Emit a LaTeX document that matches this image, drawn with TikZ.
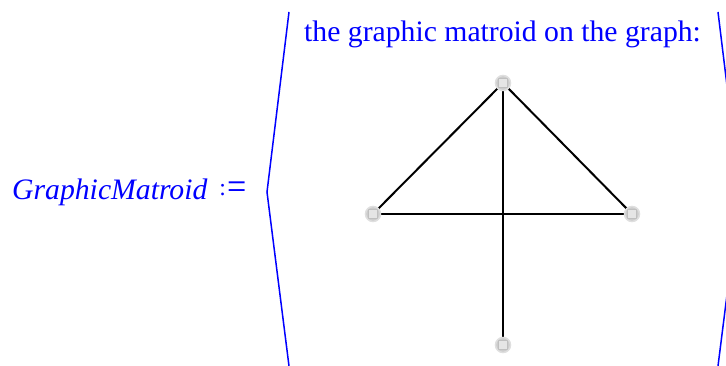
\documentclass[tikz,border=0pt]{standalone}
\usepackage{fontspec}
\setmainfont{Liberation Serif}
\begin{document}
\begin{tikzpicture}[x=1pt,y=-1pt,
  vert/.style={circle,fill=gray!40,draw=gray!25,line width=1.5pt,minimum size=15pt,inner sep=0pt,
    path picture={\fill[gray!20,draw=gray!50,line width=0.6pt] ([xshift=-4.5pt,yshift=-4.5pt]path picture bounding box.center) rectangle ([xshift=4.5pt,yshift=4.5pt]path picture bounding box.center);}},
  edge/.style={black,line width=2pt},
  brk/.style={blue,line width=1.5pt},
  lbl/.style={blue,font=\fontsize{29.7}{34}\selectfont,inner sep=0pt}]
\useasboundingbox (0,0) rectangle (726,366);
\clip (0,0) rectangle (726,366);
% texts
\node[lbl,anchor=base west] (name) at (12,200) {\itshape GraphicMatroid\upshape\hspace{12pt}\raisebox{4pt}{\scalebox{0.8}{:}}\kern1pt\scalebox{1.15}[1.3]{=}};
\node[lbl,anchor=base west] (title) at (304,42) {the graphic matroid on the graph:};
% brackets
\coordinate (lt) at (289,12);
\coordinate (la) at (267,192);
\coordinate (lb) at (289,366);
\coordinate (rt) at (718,12);
\coordinate (ra) at (740,192);
\coordinate (rb) at (718,366);
\draw[brk] (lt) -- (la) -- (lb);
\draw[brk] (rt) -- (ra) -- (rb);
% graph
\coordinate (T) at (503,83);
\coordinate (L) at (373,214);
\coordinate (R) at (632,214);
\coordinate (B) at (503,345);
\draw[edge] (T) -- (L);
\draw[edge] (T) -- (R);
\draw[edge] (L) -- (R);
\draw[edge] (T) -- (B);
\node[vert] (vT) at (T) {};
\node[vert] (vL) at (L) {};
\node[vert] (vR) at (R) {};
\node[vert] (vB) at (B) {};
\end{tikzpicture}
\end{document}
